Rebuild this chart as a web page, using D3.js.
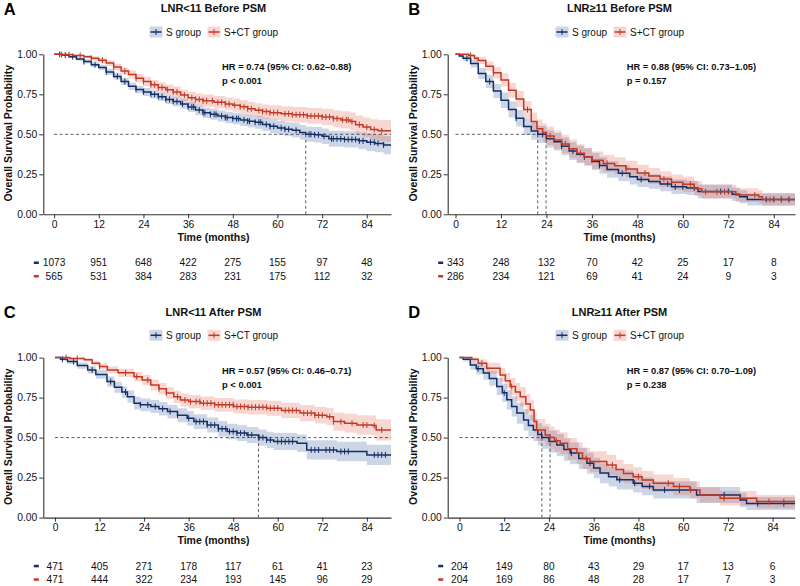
<!DOCTYPE html>
<html lang="en">
<meta charset="utf-8">
<title>Overall survival by LNR group</title>
<style>
    body { margin: 0; background: #fff; }
    svg text { font-family: "Liberation Sans", Arial, Helvetica, sans-serif; }
</style>
<body>
<svg id="canvas"></svg>
<script src="https://cdn.jsdelivr.net/npm/d3@7"></script>
<script>

    /////////////////////// Data //////////////////////
    var timeTicks    = [0, 12, 24, 36, 48, 60, 72, 84];
    var survTicks    = [0, 0.25, 0.5, 0.75, 1];
    var groupNames   = ["S group", "S+CT group"];
    var panelLetters = ["A", "B", "C", "D"];
    var panelTitles  = ["LNR<11 Before PSM", "LNR\u226511 Before PSM", "LNR<11 After PSM", "LNR\u226511 After PSM"];
    var hrLabels     = ["HR = 0.74 (95% CI: 0.62\u20130.88)", "HR = 0.88 (95% CI: 0.73\u20131.05)",
                        "HR = 0.57 (95% CI: 0.46\u20130.71)", "HR = 0.87 (95% CI: 0.70\u20131.09)"];
    var pLabels      = ["p < 0.001", "p = 0.157", "p < 0.001", "p = 0.238"];

    // KM rows: [time, survival, lower CI, upper CI]
    var kmA_S  = [[0,1,1,1],[2,0.995,0.99,1],[4,0.985,0.977,0.993],[6,0.97,0.96,0.98],[8,0.955,0.943,0.967],
                  [10,0.935,0.92,0.95],[12,0.918,0.901,0.935],[14,0.89,0.871,0.909],[16,0.862,0.842,0.882],
                  [18,0.83,0.808,0.852],[20,0.8,0.777,0.823],[22,0.78,0.756,0.804],[24,0.765,0.74,0.79],
                  [26,0.75,0.724,0.776],[28,0.735,0.708,0.762],[30,0.718,0.69,0.746],[32,0.705,0.676,0.734],
                  [34,0.69,0.66,0.72],[36,0.671,0.64,0.702],[38,0.652,0.62,0.684],[40,0.635,0.602,0.668],
                  [42,0.625,0.591,0.659],[44,0.615,0.58,0.65],[46,0.605,0.569,0.641],[48,0.598,0.561,0.635],
                  [50,0.59,0.552,0.628],[52,0.582,0.543,0.621],[54,0.575,0.535,0.615],[56,0.562,0.521,0.603],
                  [58,0.55,0.508,0.592],[60,0.54,0.497,0.583],[62,0.532,0.488,0.576],[64,0.525,0.48,0.57],
                  [66,0.512,0.466,0.558],[67.6,0.5,0.453,0.547],[70,0.497,0.449,0.545],[72,0.488,0.439,0.537],
                  [73.8,0.472,0.422,0.522],[78,0.468,0.417,0.519],[81.8,0.459,0.406,0.512],[84,0.45,0.396,0.504],
                  [86.2,0.443,0.388,0.498],[88.5,0.433,0.376,0.49],[91,0.433,0.376,0.49]];
    var kmA_CT = [[0,1,1,1],[2,0.998,0.994,1],[5,0.993,0.986,1],[8,0.985,0.975,0.995],[10,0.975,0.962,0.988],
                  [12,0.963,0.947,0.979],[14,0.945,0.927,0.963],[16,0.92,0.899,0.941],[18,0.895,0.872,0.918],
                  [20,0.873,0.848,0.898],[22,0.85,0.823,0.877],[24,0.83,0.801,0.859],[26,0.81,0.78,0.84],
                  [28,0.792,0.76,0.824],[30,0.778,0.745,0.811],[32,0.765,0.731,0.799],[34,0.745,0.71,0.78],
                  [36,0.728,0.692,0.764],[38,0.718,0.681,0.755],[40,0.71,0.672,0.748],[43,0.7,0.661,0.739],
                  [46,0.69,0.65,0.73],[48,0.682,0.641,0.723],[50,0.672,0.63,0.714],[52,0.66,0.617,0.703],
                  [54,0.65,0.606,0.694],[56,0.642,0.597,0.687],[58,0.635,0.589,0.681],[61,0.628,0.581,0.675],
                  [64,0.622,0.574,0.67],[68,0.615,0.566,0.664],[72,0.608,0.557,0.659],[75,0.598,0.545,0.651],
                  [77,0.59,0.536,0.644],[79.5,0.58,0.524,0.636],[81,0.56,0.502,0.618],[83,0.545,0.485,0.605],
                  [85,0.53,0.466,0.594],[87,0.522,0.455,0.589],[91,0.522,0.455,0.589]];
    var kmB_S  = [[0,1,1,1],[1,0.99,0.98,1],[2,0.975,0.958,0.992],[4,0.942,0.917,0.967],[6,0.88,0.845,0.915],
                  [8,0.83,0.79,0.87],[10,0.77,0.726,0.814],[12,0.713,0.665,0.761],[14,0.655,0.605,0.705],
                  [16,0.6,0.548,0.652],[18,0.548,0.495,0.601],[20,0.52,0.466,0.574],[21.7,0.5,0.446,0.554],
                  [24,0.472,0.418,0.526],[26,0.453,0.398,0.508],[28,0.425,0.37,0.48],[30,0.395,0.34,0.45],
                  [32,0.375,0.321,0.429],[34,0.359,0.305,0.413],[36,0.33,0.277,0.383],[38,0.305,0.253,0.357],
                  [40,0.28,0.229,0.331],[43,0.256,0.206,0.306],[46,0.235,0.187,0.283],[48,0.218,0.171,0.265],
                  [51,0.205,0.159,0.251],[54,0.19,0.144,0.236],[57,0.172,0.127,0.217],[61,0.165,0.12,0.21],
                  [64,0.143,0.1,0.186],[73,0.125,0.083,0.167],[75,0.11,0.069,0.151],[77,0.093,0.055,0.131],
                  [91,0.093,0.055,0.131]];
    var kmB_CT = [[0,1,1,1],[3.5,0.993,0.983,1],[5,0.975,0.957,0.993],[6,0.962,0.94,0.984],[8,0.925,0.895,0.955],
                  [10,0.885,0.849,0.921],[12,0.84,0.798,0.882],[14,0.775,0.728,0.822],[16,0.72,0.67,0.77],
                  [18,0.655,0.602,0.708],[20,0.58,0.524,0.636],[21.5,0.535,0.478,0.592],[23,0.512,0.455,0.569],
                  [24,0.49,0.433,0.547],[26,0.465,0.408,0.522],[28,0.44,0.383,0.497],[30,0.41,0.353,0.467],
                  [32,0.382,0.326,0.438],[34,0.36,0.305,0.415],[36,0.338,0.284,0.392],[39,0.318,0.265,0.371],
                  [42,0.303,0.25,0.356],[45,0.283,0.231,0.335],[48,0.258,0.207,0.309],[51,0.24,0.19,0.29],
                  [54,0.22,0.171,0.269],[57,0.2,0.152,0.248],[60,0.188,0.14,0.236],[63,0.16,0.114,0.206],
                  [65,0.141,0.097,0.185],[74,0.12,0.077,0.163],[80,0.11,0.068,0.152],[81,0.093,0.054,0.132],
                  [91,0.093,0.054,0.132]];
    var kmC_S  = [[0,1,1,1],[1.5,0.99,0.982,0.998],[3.4,0.975,0.961,0.989],[6,0.95,0.931,0.969],
                  [8.8,0.923,0.9,0.946],[11,0.895,0.868,0.922],[14,0.85,0.818,0.882],[16,0.815,0.781,0.849],
                  [18,0.785,0.749,0.821],[19.5,0.756,0.718,0.794],[21.3,0.715,0.675,0.755],[23,0.705,0.665,0.745],
                  [25.8,0.694,0.653,0.735],[28,0.68,0.638,0.722],[30.3,0.663,0.62,0.706],[33,0.64,0.596,0.684],
                  [35.6,0.621,0.576,0.666],[37.4,0.6,0.554,0.646],[41,0.579,0.532,0.626],[44,0.555,0.507,0.603],
                  [46.4,0.538,0.489,0.586],[49,0.528,0.479,0.577],[51.7,0.517,0.467,0.567],[54.8,0.5,0.449,0.551],
                  [57,0.485,0.433,0.537],[58.9,0.475,0.422,0.528],[65.2,0.465,0.41,0.52],[67.8,0.423,0.363,0.483],
                  [75.9,0.413,0.352,0.474],[84,0.392,0.328,0.456],[91,0.392,0.328,0.456]];
    var kmC_CT = [[0,1,1,1],[4,0.995,0.989,1],[7.9,0.986,0.975,0.997],[10,0.965,0.949,0.981],
                  [12,0.945,0.925,0.965],[14.1,0.923,0.9,0.946],[17,0.905,0.879,0.931],[21.3,0.881,0.852,0.91],
                  [23.5,0.86,0.829,0.891],[25.8,0.829,0.795,0.863],[28,0.805,0.769,0.841],[30,0.778,0.74,0.816],
                  [32,0.756,0.717,0.795],[33.8,0.735,0.695,0.775],[36,0.725,0.684,0.766],[39.2,0.715,0.673,0.757],
                  [43,0.705,0.662,0.748],[48.1,0.694,0.65,0.738],[52,0.69,0.645,0.735],[57.1,0.684,0.637,0.731],
                  [61,0.67,0.622,0.718],[66,0.653,0.602,0.703],[70,0.64,0.588,0.692],[73.2,0.631,0.577,0.685],
                  [75,0.6,0.543,0.657],[78,0.59,0.531,0.649],[81.3,0.579,0.518,0.64],[85.5,0.575,0.512,0.638],
                  [86.5,0.548,0.482,0.614],[91,0.548,0.482,0.614]];
    var kmD_S  = [[0,1,1,1],[1,0.99,0.976,1],[2.9,0.954,0.925,0.983],[4.5,0.93,0.895,0.965],
                  [6.4,0.903,0.862,0.943],[8,0.87,0.824,0.916],[10,0.819,0.766,0.872],[11.5,0.78,0.723,0.837],
                  [12.7,0.736,0.675,0.797],[14,0.695,0.632,0.758],[15.4,0.653,0.587,0.718],[17.2,0.61,0.543,0.677],
                  [18.5,0.575,0.507,0.643],[19.8,0.548,0.479,0.617],[21,0.52,0.451,0.589],[22.1,0.5,0.431,0.569],
                  [24,0.475,0.406,0.544],[26.1,0.454,0.385,0.523],[28,0.425,0.356,0.494],[29.7,0.403,0.334,0.471],
                  [32,0.37,0.303,0.437],[34.2,0.34,0.274,0.406],[36,0.31,0.246,0.374],[37.7,0.278,0.215,0.34],
                  [40,0.255,0.194,0.316],[42.2,0.236,0.176,0.296],[46.6,0.215,0.157,0.273],[49,0.195,0.139,0.251],
                  [52,0.173,0.119,0.227],[63.6,0.142,0.092,0.192],[75.3,0.11,0.065,0.155],[77,0.088,0.047,0.129],
                  [91,0.088,0.047,0.129]];
    var kmD_CT = [[0,1,1,1],[3.3,0.99,0.976,1],[5,0.965,0.94,0.99],[7.3,0.934,0.9,0.968],
                  [10.9,0.892,0.849,0.935],[12.3,0.855,0.806,0.904],[13.6,0.819,0.766,0.872],[15,0.785,0.728,0.842],
                  [16.3,0.756,0.696,0.816],[17.8,0.71,0.647,0.773],[19,0.673,0.608,0.738],[20,0.6,0.532,0.668],
                  [20.7,0.548,0.479,0.617],[23,0.517,0.448,0.586],[24.3,0.5,0.431,0.569],[25.5,0.48,0.411,0.549],
                  [27,0.465,0.396,0.534],[29,0.43,0.362,0.498],[31.5,0.403,0.335,0.47],[33,0.37,0.304,0.436],
                  [35,0.35,0.285,0.415],[39.5,0.329,0.265,0.393],[42,0.3,0.238,0.362],[44,0.275,0.215,0.335],
                  [46.6,0.256,0.197,0.315],[49,0.235,0.178,0.292],[52,0.215,0.16,0.27],[57.4,0.194,0.14,0.248],
                  [61.8,0.173,0.121,0.225],[64.5,0.142,0.094,0.19],[69.9,0.121,0.076,0.166],[79.7,0.1,0.059,0.141],
                  [91,0.1,0.059,0.141]];

    // censored times (months)
    var censA_S  = [1.5,3,5,8,11,14,17,19,22,24,26,27,28,29,30,31,32,33,34.5,36,37,37.5,39,40,40.5,42,43,43.5,45,46,
                    46.5,48,49,49.5,51,52,52.5,54,55,55.5,57,58,59,61,62,63,65,68.5,69,70,71,72.5,74.5,75,76,77,78,
                    79,80,81,82,83,85,86,87,88.5];
    var censA_CT = [2,4,7,10,13,16,19,22,24,26,27,28,29,30.5,32,33,35,37,38,39,40,41,42.5,44,45,46,47,48.5,50,51,
                    52,53,55,56,57,58,59,60,62,63,64,65,66,67,68,69,70,71,72,73,74,75,76,77.5,78.5,79,80,82,84,86,88];
    var censB_S  = [3,9,16,23,28,31,34,38,44,49,56,58,60,63,70,72,82,84,86,88];
    var censB_CT = [4,10,19,25,29,33,36,40,45,50,55,62,66,69,71,79,83,86];
    var censC_S  = [2,5,10,15,19,23,25,27,29,31,33,36,38,39,40,41,42,43,44,45,46,47,48,49,50,51,52,53,55,56,57,58,
                    60,61,62,63,64,69,70,71,73,74,75,77,78,79,86,87,88,89];
    var censC_CT = [3,6,12,19,22,25,28,30,33,35,36.5,38,39,40,41,42,43,44,45,46,47,48,49,50,51,52,53,54,55,56,57,
                    58,59,60,62,63,64,65,67,68,69,70,71,72,74,75,77,80,83,84,86,88];
    var censD_S  = [5,12,22,30,35,43,47,51,55,59,71,80,87];
    var censD_CT = [6,14,26,34,41,48,56,59,62,71,83,87];

    // number at risk at timeTicks
    var riskA_S  = [1073, 951, 648, 422, 275, 155, 97, 48];
    var riskA_CT = [565, 531, 384, 283, 231, 175, 112, 32];
    var riskB_S  = [343, 248, 132, 70, 42, 25, 17, 8];
    var riskB_CT = [286, 234, 121, 69, 41, 24, 9, 3];
    var riskC_S  = [471, 405, 271, 178, 117, 61, 41, 23];
    var riskC_CT = [471, 444, 322, 234, 193, 145, 96, 29];
    var riskD_S  = [204, 149, 80, 43, 29, 17, 13, 6];
    var riskD_CT = [204, 169, 86, 48, 28, 17, 7, 3];

    // median survival [S, S+CT] (null = not reached)
    var medianA = [67.6, null];
    var medianB = [21.7, 23.9];
    var medianC = [54.8, null];
    var medianD = [22.1, 24.3];
    ///////////////////////////////////////////////////

    ///////////////// Style Variables /////////////////
    var line_colors  = ['#142f66', '#c23a26'];
    var band_colors  = ['#2d5596', '#e2553f'];
    var band_opacity = 0.24;
    var text_color   = '#111';
    var axis_color   = '#333';
    ///////////////////////////////////////////////////

    /////////// Position and Dimension Variables //////
    var row_shift = 303.3;
    var y_top     = 54.3;
    var y_bot     = 214.3;
    var layout = [
        { oy: 0,         axisX: 43.3,  right: 391, xDom: [-2.9, 90.5],  yTitleX: 8.5,   cx: 213.5, hrX: 222 },
        { oy: 0,         axisX: 447.7, right: 795, xDom: [-2.06, 89.6], yTitleX: 413.3, cx: 619.5, hrX: 626.7 },
        { oy: row_shift, axisX: 43.3,  right: 391, xDom: [-3.15, 90.5], yTitleX: 8.5,   cx: 213.5, hrX: 222 },
        { oy: row_shift, axisX: 447.7, right: 795, xDom: [-3.16, 90.0], yTitleX: 413.3, cx: 619.5, hrX: 626.7 }
    ];
    var km      = [[kmA_S, kmA_CT], [kmB_S, kmB_CT], [kmC_S, kmC_CT], [kmD_S, kmD_CT]];
    var cens    = [[censA_S, censA_CT], [censB_S, censB_CT], [censC_S, censC_CT], [censD_S, censD_CT]];
    var risk    = [[riskA_S, riskA_CT], [riskB_S, riskB_CT], [riskC_S, riskC_CT], [riskD_S, riskD_CT]];
    var medians = [medianA, medianB, medianC, medianD];
    ///////////////////////////////////////////////////

    var canvas = d3.select("#canvas")
        .attr('width', 800)
        .attr('height', 586)
        .style('display', 'block')
        .style('background-color', '#fff');

    function survAt(rows, t) {
        var s = 1;
        rows.forEach(function (r) { if (r[0] <= t) s = r[1]; });
        return s;
    }

    function drawPanel(i) {
        var L = layout[i];
        var g = canvas.append("g").attr('transform', 'translate(0,' + L.oy + ')');

        var x = d3.scaleLinear().domain(L.xDom).range([L.axisX, L.right]);
        var y = d3.scaleLinear().domain([0, 1]).range([y_bot, y_top]);

        g.append("clipPath").attr('id', 'clip' + i)
            .append("rect")
            .attr('x', L.axisX).attr('y', y_top - 6)
            .attr('width', L.right - L.axisX).attr('height', y_bot - y_top + 6);
        var plot = g.append("g").attr('clip-path', 'url(#clip' + i + ')');

        //////////////////// CI bands ////////////////////
        var band = d3.area().curve(d3.curveStepAfter)
            .x(function (d) { return x(d[0]); })
            .y0(function (d) { return y(d[2]); })
            .y1(function (d) { return y(d[3]); });
        km[i].forEach(function (rows, k) {
            plot.append("path").datum(rows)
                .attr('d', band)
                .attr('fill', band_colors[k])
                .attr('fill-opacity', band_opacity);
        });

        ///////////////// median lines ///////////////////
        var med = medians[i];
        var known = med.filter(function (m) { return m !== null; });
        var hEnd = known.length === med.length ? x(d3.max(known)) : L.right;
        plot.append("line")
            .attr('x1', x(0)).attr('x2', hEnd)
            .attr('y1', y(0.5)).attr('y2', y(0.5))
            .attr('stroke', axis_color).attr('stroke-width', 0.8)
            .attr('stroke-dasharray', '3,2.5');
        known.forEach(function (m) {
            plot.append("line")
                .attr('x1', x(m)).attr('x2', x(m))
                .attr('y1', y(0.5)).attr('y2', y(0))
                .attr('stroke', axis_color).attr('stroke-width', 0.8)
                .attr('stroke-dasharray', '3,2.5');
        });

        ///////////////// survival curves ////////////////
        var line = d3.line().curve(d3.curveStepAfter)
            .x(function (d) { return x(d[0]); })
            .y(function (d) { return y(d[1]); });
        km[i].forEach(function (rows, k) {
            plot.append("path").datum(rows)
                .attr('d', line)
                .attr('fill', 'none')
                .attr('stroke', line_colors[k])
                .attr('stroke-width', 1.5);
            plot.selectAll(null).data(cens[i][k]).enter()
                .append("line")
                .attr('x1', function (t) { return x(t); })
                .attr('x2', function (t) { return x(t); })
                .attr('y1', function (t) { return y(survAt(rows, t)) - 3; })
                .attr('y2', function (t) { return y(survAt(rows, t)) + 3; })
                .attr('stroke', line_colors[k])
                .attr('stroke-width', 1);
        });

        /////////////////////// axes /////////////////////
        var yAxis = g.append("g")
            .attr('transform', 'translate(' + L.axisX + ',0)')
            .call(d3.axisLeft(y).tickValues(survTicks).tickFormat(d3.format(".2f"))
                .tickSize(4).tickSizeOuter(0).tickPadding(2));
        var xAxis = g.append("g")
            .attr('transform', 'translate(0,' + y_bot + ')')
            .call(d3.axisBottom(x).tickValues(timeTicks).tickFormat(d3.format("d"))
                .tickSize(4).tickSizeOuter(0).tickPadding(2.5));
        [yAxis, xAxis].forEach(function (ax) {
            ax.select(".domain").attr('stroke', axis_color).attr('stroke-width', 1.1);
            ax.selectAll(".tick line").attr('stroke', axis_color).attr('stroke-width', 1);
            ax.selectAll(".tick text").attr('fill', text_color).attr('font-size', 10.3)
                .style('font-family', '"Liberation Sans", Arial, sans-serif');
        });

        g.append("text")
            .attr('transform', 'translate(' + L.yTitleX + ',' + ((y_top + y_bot) / 2 - 1) + ') rotate(-90)')
            .attr('text-anchor', 'middle').attr('dy', '0.35em')
            .attr('font-size', 10.5).attr('font-weight', 'bold').attr('fill', text_color)
            .text("Overall Survival Probability");
        g.append("text")
            .attr('x', L.cx).attr('y', 237.5).attr('dy', '0.35em')
            .attr('text-anchor', 'middle')
            .attr('font-size', 10.5).attr('font-weight', 'bold').attr('fill', text_color)
            .text("Time (months)");

        ///////////////// title & letter /////////////////
        g.append("text")
            .attr('x', L.axisX - 39.5).attr('y', 9).attr('dy', '0.36em')
            .attr('font-size', 16.5).attr('font-weight', 'bold').attr('fill', '#000')
            .text(panelLetters[i]);
        g.append("text")
            .attr('x', L.cx).attr('y', 8.5).attr('dy', '0.35em')
            .attr('text-anchor', 'middle')
            .attr('font-size', 11).attr('font-weight', 'bold').attr('fill', text_color)
            .text(panelTitles[i]);

        ///////////////////// legend /////////////////////
        var keyX  = [L.cx - 64, L.cx - 6];
        var textX = [L.cx - 47.5, L.cx + 10.5];
        groupNames.forEach(function (name, k) {
            g.append("rect")
                .attr('x', keyX[k]).attr('y', 26.5)
                .attr('width', 13).attr('height', 11)
                .attr('fill', band_colors[k]).attr('fill-opacity', band_opacity);
            g.append("line")
                .attr('x1', keyX[k] + 1).attr('x2', keyX[k] + 12)
                .attr('y1', 32).attr('y2', 32)
                .attr('stroke', line_colors[k]).attr('stroke-width', 1.5);
            g.append("line")
                .attr('x1', keyX[k] + 6.5).attr('x2', keyX[k] + 6.5)
                .attr('y1', 29).attr('y2', 35)
                .attr('stroke', line_colors[k]).attr('stroke-width', 1);
            g.append("text")
                .attr('x', textX[k]).attr('y', 32).attr('dy', '0.35em')
                .attr('font-size', 10).attr('fill', text_color)
                .text(name);
        });

        //////////////////// HR text /////////////////////
        g.append("text")
            .attr('x', L.hrX).attr('y', 67).attr('dy', '0.35em')
            .attr('font-size', 9.4).attr('font-weight', 'bold').attr('fill', text_color)
            .text(hrLabels[i]);
        g.append("text")
            .attr('x', L.hrX).attr('y', 81).attr('dy', '0.35em')
            .attr('font-size', 9.4).attr('font-weight', 'bold').attr('fill', text_color)
            .text(pLabels[i]);

        ////////////////// risk table ////////////////////
        var rowY = [262.7, 276.2];
        risk[i].forEach(function (counts, k) {
            g.append("rect")
                .attr('x', L.axisX - 9.5).attr('y', rowY[k] - 1.2)
                .attr('width', 5).attr('height', 2.5)
                .attr('fill', line_colors[k]);
            g.selectAll(null).data(counts).enter()
                .append("text")
                .attr('x', function (d, j) { return x(timeTicks[j]); })
                .attr('y', rowY[k]).attr('dy', '0.35em')
                .attr('text-anchor', 'middle')
                .attr('font-size', 10.2).attr('fill', text_color)
                .text(function (d) { return d; });
        });
    }

    for (var i = 0; i < 4; i++) drawPanel(i);

</script>
</body>
</html>
